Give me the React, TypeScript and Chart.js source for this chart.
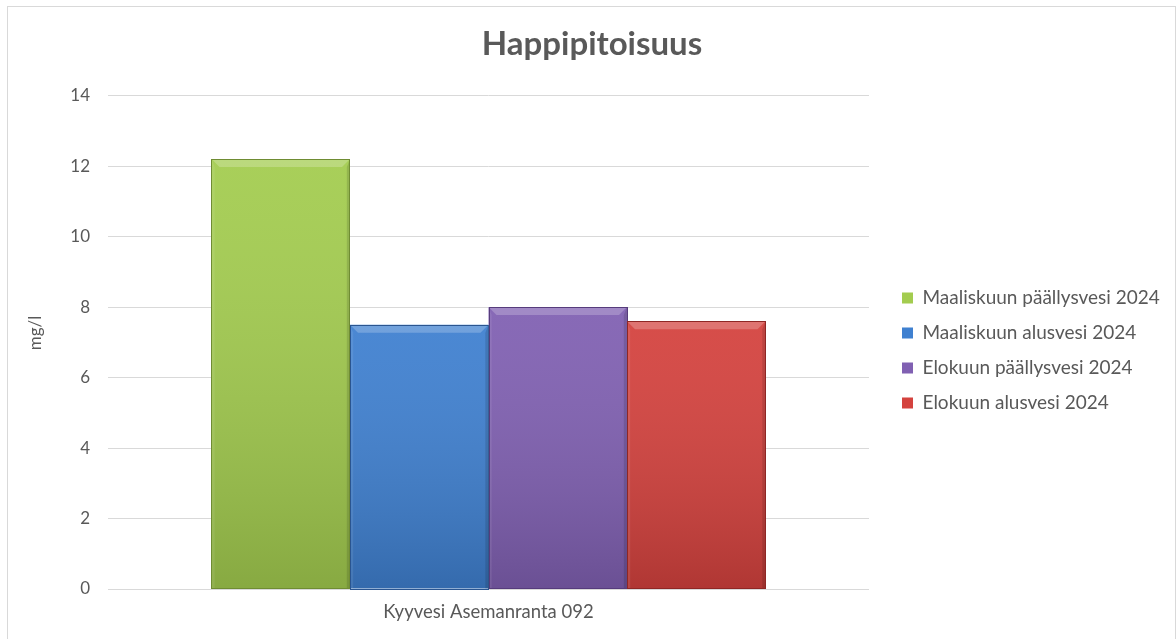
import React, { useEffect, useRef } from "react";
import { Chart, registerables } from "chart.js";

Chart.register(...registerables);

const categories = ["Kyyvesi Asemanranta 092"];
const seriesNames = [
  "Maaliskuun päällysvesi 2024",
  "Maaliskuun alusvesi 2024",
  "Elokuun päällysvesi 2024",
  "Elokuun alusvesi 2024",
];
const maaliskuuPaallysvesi = [12.2];
const maaliskuuAlusvesi = [7.5];
const elokuuPaallysvesi = [8.0];
const elokuuAlusvesi = [7.6];
const seriesValues = [maaliskuuPaallysvesi, maaliskuuAlusvesi, elokuuPaallysvesi, elokuuAlusvesi];
const seriesColors = ["#a3cc4f", "#3f80d0", "#8060b2", "#d4423e"];
const seriesBorders = ["#6f8c33", "#2a5590", "#563c7c", "#8f2725"];
const yMin = 0;
const yMax = 14;
const yStep = 2;
const chartTitle = "Happipitoisuus";
const yTitle = "mg/l";

const FONT = "Lato, 'Open Sans', sans-serif";
const TEXT = "#595959";
const LEGEND_FONT = 19;
const LEGEND_PAD = 16;
const LEGEND_BOX = 11;

export default function App() {
  const ref = useRef<HTMLCanvasElement | null>(null);

  useEffect(() => {
    document.body.style.margin = "0";
    const canvas = ref.current!;
    const mctx = canvas.getContext("2d")!;
    mctx.font = `${LEGEND_FONT}px ${FONT}`;
    const textW = Math.max(...seriesNames.map((s) => mctx.measureText(s).width));
    const legendW = LEGEND_PAD + LEGEND_BOX + LEGEND_FONT / 2 + textW + 10;
    const targetRight = 869;
    const padRight = Math.max(0, 1176 - targetRight - legendW);

    const framePlugin = {
      id: "frame",
      beforeDraw(chart: any) {
        const c = chart.ctx;
        c.save();
        c.fillStyle = "#ffffff";
        c.fillRect(0, 0, chart.width, chart.height);
        c.strokeStyle = "#d9d9d9";
        c.lineWidth = 1;
        c.strokeRect(7.5, 6.5, chart.width - 8, chart.height + 20);
        c.restore();
      },
    };

    const bevelPlugin = {
      id: "bevel",
      afterDatasetsDraw(chart: any) {
        const c = chart.ctx;
        chart.data.datasets.forEach((_: any, di: number) => {
          const meta = chart.getDatasetMeta(di);
          meta.data.forEach((bar: any) => {
            const l = bar.x - bar.width / 2;
            const r = bar.x + bar.width / 2;
            const t = bar.y;
            const b = bar.base;
            const bv = 8;
            c.save();
            const g = c.createLinearGradient(0, t, 0, b);
            g.addColorStop(0, "rgba(255,255,255,0.06)");
            g.addColorStop(1, "rgba(0,0,0,0.17)");
            c.fillStyle = g;
            c.fillRect(l, t, r - l, b - t);
            c.beginPath();
            c.moveTo(l, t);
            c.lineTo(r, t);
            c.lineTo(r - bv, t + bv);
            c.lineTo(l + bv, t + bv);
            c.closePath();
            c.fillStyle = "rgba(255,255,255,0.22)";
            c.fill();
            c.beginPath();
            c.moveTo(l, t);
            c.lineTo(l + bv * 0.4, t + bv);
            c.lineTo(l + bv * 0.4, b);
            c.lineTo(l, b);
            c.closePath();
            c.fillStyle = "rgba(255,255,255,0.08)";
            c.fill();
            c.beginPath();
            c.moveTo(r, t);
            c.lineTo(r - bv * 0.4, t + bv);
            c.lineTo(r - bv * 0.4, b);
            c.lineTo(r, b);
            c.closePath();
            c.fillStyle = "rgba(0,0,0,0.12)";
            c.fill();
            c.strokeStyle = seriesBorders[di];
            c.lineWidth = 1;
            c.strokeRect(Math.round(l) + 0.5, Math.round(t) + 0.5, Math.round(r - l) - 1, Math.round(b - t));
            c.restore();
          });
        });
      },
    };

    const layoutShift = {
      id: "layoutShift",
      afterLayout(chart: any) {
        const lg = chart.legend;
        if (lg) {
          const dx = 902 - (chart.chartArea.right + LEGEND_PAD);
          lg.left += dx;
          lg.right += dx;
          lg.top += 31;
          lg.bottom += 31;
        }
        const tb = chart.titleBlock;
        if (tb) {
          tb.left = 8;
          tb.right = 1176;
        }
      },
    };

    const yTitlePlugin = {
      id: "yTitle",
      afterDraw(chart: any) {
        const c = chart.ctx;
        c.save();
        c.translate(36, 333);
        c.rotate(-Math.PI / 2);
        c.font = `17px ${FONT}`;
        c.fillStyle = TEXT;
        c.textAlign = "center";
        c.textBaseline = "middle";
        c.fillText(yTitle, 0, 0);
        c.restore();
      },
    };

    const chart = new Chart(canvas, {
      type: "bar",
      data: {
        labels: categories,
        datasets: seriesNames.map((name, i) => ({
          label: name,
          data: seriesValues[i],
          backgroundColor: seriesColors[i],
          borderColor: seriesBorders[i],
          borderWidth: 0,
          barPercentage: 1,
          categoryPercentage: 0.728,
        })),
      },
      options: {
        responsive: false,
        animation: false,
        layout: { padding: { left: 0, right: padRight, top: 0, bottom: 0 } },
        plugins: {
          title: {
            display: true,
            text: chartTitle,
            color: TEXT,
            font: { family: FONT, size: 33, weight: "bold" },
            padding: { top: 25, bottom: 31 },
          },
          legend: {
            position: "right",
            align: "center",
            labels: {
              color: TEXT,
              font: { family: FONT, size: LEGEND_FONT },
              boxWidth: LEGEND_BOX,
              boxHeight: LEGEND_BOX,
              padding: LEGEND_PAD,
            },
          },
          tooltip: { enabled: false },
        },
        scales: {
          x: {
            grid: { display: false, drawTicks: false },
            border: { display: false },
            ticks: { color: TEXT, font: { family: FONT, size: 18.5 }, padding: 12 },
            afterFit(scale: any) {
              scale.height = 50;
            },
          },
          y: {
            min: yMin,
            max: yMax,
            ticks: { stepSize: yStep, color: TEXT, font: { family: FONT, size: 17 }, padding: 18 },
            grid: { color: "#d9d9d9", drawTicks: false },
            border: { display: false },
            afterFit(scale: any) {
              scale.width = 108;
            },
          },
        },
      },
      plugins: [framePlugin, bevelPlugin, layoutShift, yTitlePlugin],
    });
    return () => chart.destroy();
  }, []);

  return (
    <div style={{ width: 1176, height: 639 }}>
      <canvas ref={ref} width={1176} height={639} />
    </div>
  );
}
